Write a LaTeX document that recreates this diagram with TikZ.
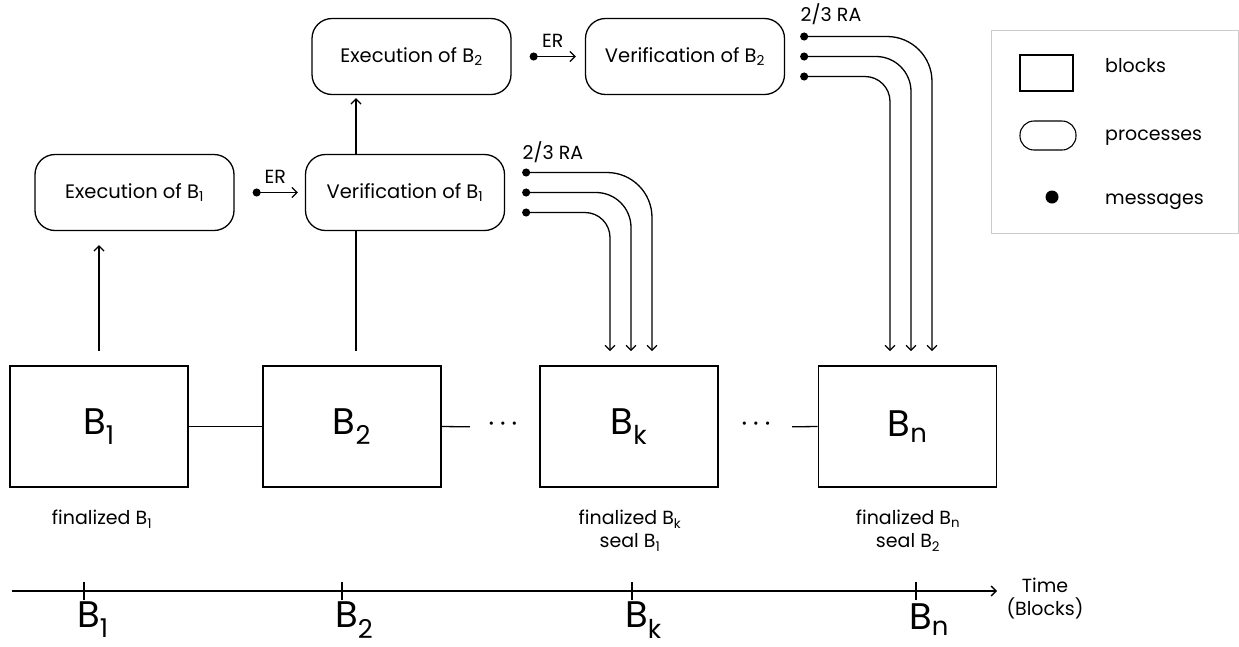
\documentclass[tikz,border=0pt]{standalone}
\usepackage{fontspec}
\setmainfont{Poppins}
\usetikzlibrary{arrows.meta,calc,positioning}
\tikzstyle{process}=[draw,line width=1.3pt,rounded corners=20pt,minimum width=199pt,minimum height=76pt,inner sep=0pt,font=\fontsize{19.5}{23}\selectfont]
\tikzstyle{block}=[draw,line width=1.6pt,minimum width=178pt,minimum height=121pt,inner sep=0pt,font=\fontsize{37}{42}\selectfont]
\tikzstyle{edge}=[draw,line width=1.3pt]
\tikzstyle{msg}=[{Circle[length=8pt]}-{Straight Barb[length=5pt,width=10pt]}]
\tikzstyle{tag}=[font=\fontsize{19}{23}\selectfont,inner sep=2pt]
\tikzstyle{tick}=[font=\fontsize{37}{42}\selectfont]
\tikzstyle{gap}=[font=\fontsize{26}{26}\selectfont,inner sep=0pt,minimum width=38pt]

\begin{document}
\begin{tikzpicture}[x=1pt,y=-1pt]
                    \useasboundingbox (0,0) rectangle (1239,646);

                    % processes
                    \node[process] (exec1) at (134.5,192.5) {Execution of B\textsubscript{1}};
                    \node[process] (ver1) at (405,192.5) {Verification of B\textsubscript{1}};
                    \node[process] (exec2) at (411.5,56.5) {Execution of B\textsubscript{2}};
                    \node[process] (ver2) at (685,56.5) {Verification of B\textsubscript{2}};

                    % blocks
                    \node[block] (b1) at (99,426.5) {B\textsubscript{1}};
                    \node[block] (b2) at (352,426.5) {B\textsubscript{2}};
                    \node[block] (bk) at (629,426.5) {B\textsubscript{k}};
                    \node[block] (bn) at (907.5,426.5) {B\textsubscript{n}};
                    \node[gap] (dotsa) at (503,427) {\textperiodcentered\hspace{6pt}\textperiodcentered\hspace{6pt}\textperiodcentered};
                    \node[gap] (dotsb) at (756,427) {\textperiodcentered\hspace{6pt}\textperiodcentered\hspace{6pt}\textperiodcentered};

                    \node[tag] (f1) at (102,519) {finalized B\textsubscript{1}};
                    \node[tag,align=center] (fk) at (630,531) {finalized B\textsubscript{k}\\seal B\textsubscript{1}};
                    \node[tag,align=center] (fn) at (908,531) {finalized B\textsubscript{n}\\seal B\textsubscript{2}};

                    \path[edge] (b1) -- (b2);
                    \path[edge,shorten >=14pt] (b2.east) -- (dotsa.west);
                    \path[edge,shorten <=17pt] (dotsb.east) -- (bn.west);

                    % execution and verification
                    \path[edge,-{Straight Barb[length=5pt,width=10pt]},shorten <=14pt,shorten >=14pt] (b1.north) -- (b1.north |- exec1.south);
                    \path[edge,shorten <=14pt] ([xshift=4pt]b2.north) -- ([xshift=4pt]b2.north |- ver1.south);
                    \path[edge,-{Straight Barb[length=5pt,width=10pt]},shorten >=3pt] ([xshift=4pt]b2.north |- ver1.north) -- ([xshift=4pt]b2.north |- exec2.south);

                    \path[edge,msg] ([xshift=18pt]exec1.east) -- node[tag,above=6pt] {ER} ([xshift=-7pt]ver1.west);
                    \path[edge,msg] ([xshift=18pt]exec2.east) -- node[tag,above=6pt] {ER} ([xshift=-9pt]ver2.west);

                    % 2/3 RA
                    \node[tag] (ra1) at (553,152) {2/3 RA};
                    \node[tag] (ra2) at (831,14) {2/3 RA};
                    \foreach \dy/\dx/\r in {20/23/45, 0/2/35, -20/-19/25}
                        \path[edge,msg,rounded corners=\r pt] ([xshift=17pt,yshift=\dy pt]ver1.east) -| ([xshift=\dx pt,yshift=14pt]bk.north);
                    \foreach \dy/\dx/\r in {20/24.5/45, 0/3.5/35, -20/-17.5/25}
                        \path[edge,msg,rounded corners=\r pt] ([xshift=15pt,yshift=\dy pt]ver2.east) -| ([xshift=\dx pt,yshift=14pt]bn.north);

                    % time line
                    \coordinate (t0) at (12,591);
                    \coordinate (t1) at (997,591);
                    \path[edge,-{Straight Barb[length=5pt,width=10pt]}] (t0) -- (t1);
                    \node[tag,align=center] (time) at (1045,599) {Time\\(Blocks)};
                    \foreach \x/\s in {84/1, 342/2, 632/k, 916/n} {
                        \path[edge] (\x,582) -- (\x,600);
                        \node[tick,anchor=west,inner sep=0pt] at (\x-7,620) {B\textsubscript{\s}};
                    }

                    % legend
                    \node[draw=black!20,line width=1pt,minimum width=247pt,minimum height=203pt] (legend) at (1114.5,131.5) {};
                    \node[draw,line width=1.1pt,minimum width=53pt,minimum height=36pt] (lblock) at (1046.5,73) {};
                    \node[draw,line width=1.1pt,rounded corners=14pt,minimum width=56pt,minimum height=29pt] (lproc) at (1048,135.5) {};
                    \node[circle,fill,minimum size=13pt,inner sep=0pt] (lmsg) at (1052,197) {};
                    \node[tag,anchor=base west] at (1103,72) {blocks};
                    \node[tag,anchor=base west] at (1103,140) {processes};
                    \node[tag,anchor=base west] at (1103,204) {messages};
                \end{tikzpicture}
\end{document}
